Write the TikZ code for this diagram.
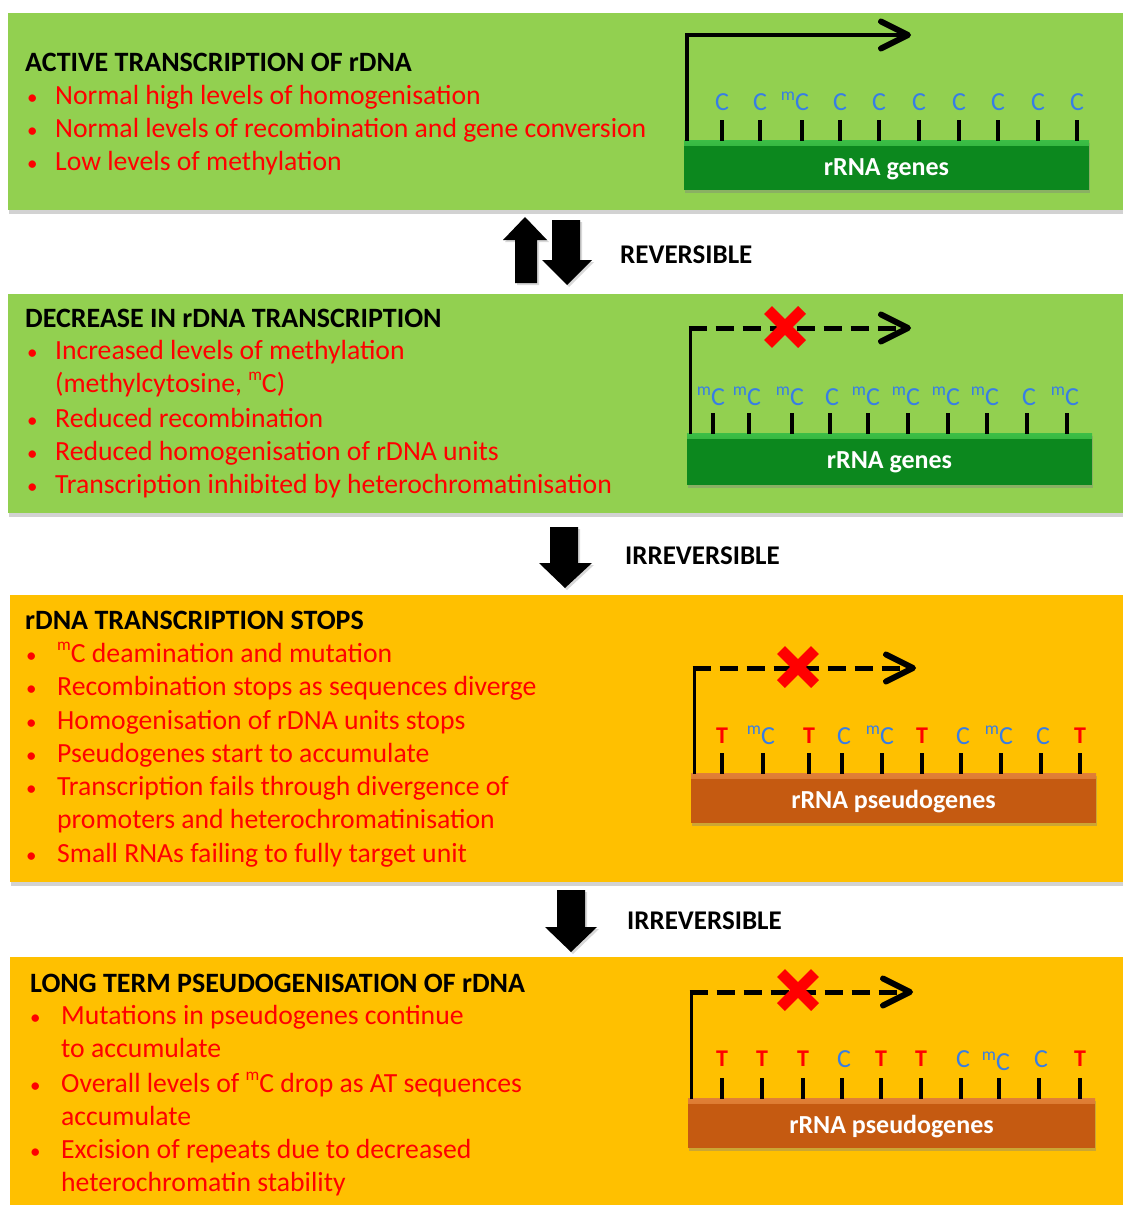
\documentclass[tikz,border=0pt]{standalone}
\usepackage{fontspec}
\setmainfont{Carlito}
\usepackage{graphicx}
\usetikzlibrary{shadows,calc}
\definecolor{pgreen}{RGB}{146,208,80}
\definecolor{porange}{RGB}{255,192,0}
\definecolor{bgreen}{RGB}{12,136,30}
\definecolor{bgreenlt}{RGB}{60,190,70}
\definecolor{borange}{RGB}{197,90,17}
\definecolor{borangelt}{RGB}{225,128,55}
\definecolor{txtred}{RGB}{255,0,0}
\definecolor{cblue}{RGB}{55,125,230}
\newcommand{\methm}{\raisebox{0.42em}{\scalebox{0.62}{m}}}
\newcommand{\methmlab}{\raisebox{0.38em}{\scalebox{0.68}{m}}}
\begin{document}
\begin{tikzpicture}[x=1pt,y=-1pt,
  ttl/.style={anchor=base west,inner sep=0pt,font=\fontsize{28}{33}\selectfont\bfseries,text=black},
  txt/.style={anchor=base west,inner sep=0pt,font=\fontsize{27.7}{33}\selectfont,text=txtred},
  bul/.style={anchor=base west,inner sep=0pt,font=\fontsize{21}{33}\selectfont,text=txtred},
  arrlab/.style={anchor=base west,inner sep=0pt,font=\fontsize{27}{33}\selectfont\bfseries,text=black},
  clab/.style={anchor=base,inner sep=0pt,font=\fontsize{26}{26}\selectfont,text=cblue},
  tlab/.style={anchor=base,inner sep=0pt,font=\fontsize{24}{24}\selectfont\bfseries,text=txtred},
  barlab/.style={anchor=base,inner sep=0pt,font=\fontsize{26}{30}\selectfont\bfseries,text=white},
  tickline/.style={line width=4pt,black},
  promoter/.style={line width=3pt,black},
  solidarrow/.style={line width=4.5pt,black},
  dashedline/.style={line width=5pt,dash pattern=on 18pt off 9pt,black},
  chev/.style={line width=6pt,line cap=round,line join=round,black},
  xmark/.style={line width=11pt,txtred,drop shadow={shadow xshift=1pt,shadow yshift=-2pt,opacity=0.25}},
  blockarrow/.style={fill=black,drop shadow={shadow xshift=2pt,shadow yshift=-2pt,opacity=0.3}},
  panelshadow/.style={drop shadow={shadow xshift=1pt,shadow yshift=-4pt,opacity=0.35}},
  gbar/.style 2 args={fill=#1,inner sep=0pt,rectangle,minimum height=50pt,
    drop shadow={shadow xshift=1pt,shadow yshift=-3pt,opacity=0.4},
    path picture={\shade[top color=#2,bottom color=#1] (path picture bounding box.north west) rectangle ([yshift=-5pt]path picture bounding box.north east);}}
]
\clip (0,0) rectangle (1123,1205);
\fill[white] (0,0) rectangle (1123,1205);

% ---------------- panels ----------------
\fill[pgreen,panelshadow] (8,13) rectangle (1135,210);
\fill[pgreen,panelshadow] (8,294) rectangle (1135,513);
\fill[porange,panelshadow] (10,595) rectangle (1135,882);
\fill[porange,panelshadow] (10,957) rectangle (1135,1215);

% ---------------- block arrows ----------------
\fill[blockarrow] (525,217) -- (547,240) -- (537,240) -- (537,283) -- (515,283) -- (515,240) -- (503,240) -- cycle;
\fill[blockarrow] (552,220) -- (580,220) -- (580,260) -- (592,260) -- (567,285) -- (542,260) -- (552,260) -- cycle;
\fill[blockarrow] (550,527) -- (578,527) -- (578,563) -- (592,563) -- (565,588) -- (539,563) -- (550,563) -- cycle;
\fill[blockarrow] (557,890) -- (585,890) -- (585,927) -- (597,927) -- (571,952) -- (545,927) -- (557,927) -- cycle;
\node[arrlab] (rev) at (620,263) {REVERSIBLE};
\node[arrlab] (irr1) at (625,564) {IRREVERSIBLE};
\node[arrlab] (irr2) at (627,929) {IRREVERSIBLE};

% ---------------- panel 1 text ----------------
\node[ttl] (t1) at (25,71) {ACTIVE TRANSCRIPTION OF rDNA};
\node[bul] (b11) at (27,104) {•}; \node[txt] (l11) at (55,104) {Normal high levels of homogenisation};
\node[bul] (b12) at (27,137) {•}; \node[txt] (l12) at (55,137) {Normal levels of recombination and gene conversion};
\node[bul] (b13) at (27,170) {•}; \node[txt] (l13) at (55,170) {Low levels of methylation};

% ---------------- panel 2 text ----------------
\node[ttl] (t2) at (25,327) {DECREASE IN rDNA TRANSCRIPTION};
\node[bul] (b21) at (27,359) {•}; \node[txt] (l21) at (55,359) {Increased levels of methylation};
\node[txt] (l21b) at (55,392) {(methylcytosine, \methm C)};
\node[bul] (b22) at (27,427) {•}; \node[txt] (l22) at (55,427) {Reduced recombination};
\node[bul] (b23) at (27,460) {•}; \node[txt] (l23) at (55,460) {Reduced homogenisation  of rDNA units};
\node[bul] (b24) at (27,493) {•}; \node[txt] (l24) at (55,493) {Transcription inhibited by heterochromatinisation};

% ---------------- panel 3 text ----------------
\node[ttl] (t3) at (25,629) {rDNA TRANSCRIPTION STOPS};
\node[bul] (b31) at (26,662) {•}; \node[txt] (l31) at (57,662) {\methm C deamination and mutation};
\node[bul] (b32) at (26,695) {•}; \node[txt] (l32) at (57,695) {Recombination stops as sequences diverge};
\node[bul] (b33) at (26,729) {•}; \node[txt] (l33) at (57,729) {Homogenisation of rDNA units stops};
\node[bul] (b34) at (26,762) {•}; \node[txt] (l34) at (57,762) {Pseudogenes start to accumulate};
\node[bul] (b35) at (26,795) {•}; \node[txt] (l35) at (57,795) {Transcription fails through divergence of};
\node[txt] (l35b) at (57,828) {promoters and heterochromatinisation};
\node[bul] (b36) at (26,862) {•}; \node[txt] (l36) at (57,862) {Small RNAs failing to fully target unit};

% ---------------- panel 4 text ----------------
\node[ttl] (t4) at (30,992) {LONG TERM PSEUDOGENISATION OF rDNA};
\node[bul] (b41) at (30,1024) {•}; \node[txt] (l41) at (61,1024) {Mutations in pseudogenes  continue};
\node[txt] (l41b) at (61,1057) {to accumulate};
\node[bul] (b42) at (30,1092) {•}; \node[txt] (l42) at (61,1092) {Overall levels of \methm C drop as AT sequences};
\node[txt] (l42b) at (61,1125) {accumulate};
\node[bul] (b43) at (30,1158) {•}; \node[txt] (l43) at (61,1158) {Excision of repeats due to  decreased};
\node[txt] (l43b) at (61,1191) {heterochromatin stability};

% ---------------- gene diagram 1 ----------------
\node[gbar={bgreen}{bgreenlt},minimum width=405pt] (bar1) at (886.5,165) {};
\node[barlab] (lab1) at ([yshift=-10pt]bar1.center) {rRNA genes};
\foreach \x in {722,760,802,840,879,919,959,998,1038,1077}
  \draw[tickline] (\x,120) -- (\x,141);
\foreach \x in {722,760,840,879,919,959,998,1038,1077}
  \node[clab] (c1-\x) at (\x,110) {C};
\foreach \x in {802}
  \node[clab] (m1-\x) at (\x,110) {\llap{\methmlab}C};
\coordinate (p1base) at (687,141);
\coordinate (p1tip) at (908,35);
\draw[solidarrow] (p1base) |- ([xshift=-2pt]p1tip);
\draw[chev] ([shift={(-27,-13.5)}]p1tip) -- (p1tip) -- ([shift={(-27,13.5)}]p1tip);

% ---------------- gene diagram 2 ----------------
\node[gbar={bgreen}{bgreenlt},minimum width=405pt,minimum height=52pt] (bar2) at (889.5,459) {};
\node[barlab] (lab2) at ([yshift=-9pt]bar2.center) {rRNA genes};
\foreach \x in {713,749,792,830,868,908,948,987,1027,1067}
  \draw[tickline] (\x,413) -- (\x,434);
\foreach \x in {830,1027}
  \node[clab] (c2-\x) at (\x+2,405) {C};
\foreach \x in {713,749,792,868,908,948,987,1067}
  \node[clab] (m2-\x) at (\x+5,405) {\llap{\methmlab}C};
\coordinate (p2base) at (690,434);
\coordinate (p2corner) at (690,328);
\coordinate (p2tip) at (908,328);
\draw[promoter] (p2base) -- ([yshift=1.5pt]p2corner);
\draw[dashedline] ([xshift=-1.5pt]p2corner) -- ([xshift=-3pt]p2tip);
\draw[chev] ([shift={(-27,-13.5)}]p2tip) -- (p2tip) -- ([shift={(-27,13.5)}]p2tip);
\coordinate (x2) at (785,327);
\draw[xmark] ([shift={(-17,-17)}]x2) -- ([shift={(17,17)}]x2);
\draw[xmark] ([shift={(-17,17)}]x2) -- ([shift={(17,-17)}]x2);

% ---------------- gene diagram 3 ----------------
\node[gbar={borange}{borangelt},minimum width=405pt] (bar3) at (893.5,798) {};
\node[barlab] (lab3) at ([yshift=-10pt]bar3.center) {rRNA pseudogenes};
\foreach \x in {722,763,809,842,882,922,961,1001,1041,1080}
  \draw[tickline] (\x,753) -- (\x,774);
\foreach \x in {722,809,922,1080}
  \node[tlab] (t3-\x) at (\x,743) {T};
\foreach \x in {842,961,1041}
  \node[clab] (c3-\x) at (\x+2,744) {C};
\foreach \x in {763,882,1001}
  \node[clab] (m3-\x) at (\x+5,744) {\llap{\methmlab}C};
\coordinate (p3base) at (694,774);
\coordinate (p3corner) at (694,668);
\coordinate (p3tip) at (913,668);
\draw[promoter] (p3base) -- ([yshift=1.5pt]p3corner);
\draw[dashedline] ([xshift=-1.5pt]p3corner) -- ([xshift=-3pt]p3tip);
\draw[chev] ([shift={(-27,-13.5)}]p3tip) -- (p3tip) -- ([shift={(-27,13.5)}]p3tip);
\coordinate (x3) at (798,667);
\draw[xmark] ([shift={(-17,-17)}]x3) -- ([shift={(17,17)}]x3);
\draw[xmark] ([shift={(-17,17)}]x3) -- ([shift={(17,-17)}]x3);

% ---------------- gene diagram 4 ----------------
\node[gbar={borange}{borangelt},minimum width=407pt] (bar4) at (891.5,1123) {};
\node[barlab] (lab4) at ([yshift=-10pt]bar4.center) {rRNA pseudogenes};
\foreach \x in {722,762,803,842,881,921,961,999,1039,1080}
  \draw[tickline] (\x,1078) -- (\x,1099);
\foreach \x in {722,762,803,881,921,1080}
  \node[tlab] (t4-\x) at (\x,1066) {T};
\foreach \x in {842,961,1039}
  \node[clab] (c4-\x) at (\x+2,1067) {C};
\foreach \x in {999}
  \node[clab] (m4-\x) at (\x+4,1070) {\llap{\methmlab}C};
\coordinate (p4base) at (691,1099);
\coordinate (p4corner) at (691,992);
\coordinate (p4tip) at (910,992);
\draw[promoter] (p4base) -- ([yshift=1.5pt]p4corner);
\draw[dashedline] ([xshift=-1.5pt]p4corner) -- ([xshift=-3pt]p4tip);
\draw[chev] ([shift={(-27,-13.5)}]p4tip) -- (p4tip) -- ([shift={(-27,13.5)}]p4tip);
\coordinate (x4) at (798,990);
\draw[xmark] ([shift={(-17,-17)}]x4) -- ([shift={(17,17)}]x4);
\draw[xmark] ([shift={(-17,17)}]x4) -- ([shift={(17,-17)}]x4);
\end{tikzpicture}
\end{document}
